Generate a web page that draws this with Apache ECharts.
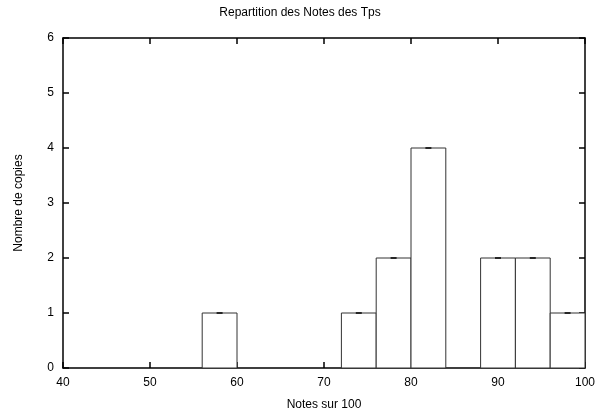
<!DOCTYPE html>
<html><head><meta charset="utf-8">
<script src="https://cdn.jsdelivr.net/npm/echarts@6/dist/echarts.min.js"></script>
<style>html,body{margin:0;padding:0;background:#fff}#c{width:600px;height:417px}</style>
</head><body><div id="c"></div>
<script>
var binCenters = [58, 74, 78, 82, 90, 94, 98];
var counts = [1, 1, 2, 4, 2, 2, 1];
var binWidth = 4;
var xTicks = [40, 50, 60, 70, 80, 90, 100];
var yTicks = [0, 1, 2, 3, 4, 5, 6];

var chart = echarts.init(document.getElementById('c'), null, {renderer: 'canvas'});
var font = 'Liberation Sans, Arial, sans-serif';
var data = binCenters.map(function (c, i) { return [c, counts[i]]; });
function axisBase(show) {
  return {
    axisLine: {show: true, onZero: false, lineStyle: {color: '#000', width: 1.5}},
    axisTick: {show: true, inside: true, length: 6, lineStyle: {color: '#000', width: 1.5}},
    axisLabel: {show: show, color: '#000', fontSize: 12, fontFamily: font, margin: 9},
    splitLine: {show: false}
  };
}
var xb = Object.assign({type: 'value', min: xTicks[0], max: xTicks[xTicks.length - 1], interval: 10, position: 'bottom',
  name: 'Notes sur 100', nameLocation: 'middle', nameGap: 31,
  nameTextStyle: {color: '#000', fontSize: 12, fontFamily: font}}, axisBase(true));
var xt = Object.assign({type: 'value', min: xTicks[0], max: xTicks[xTicks.length - 1], interval: 10, position: 'top'}, axisBase(false));
var yl = Object.assign({type: 'value', min: yTicks[0], max: yTicks[yTicks.length - 1], interval: 1, position: 'left',
  name: 'Nombre de copies', nameLocation: 'middle', nameGap: 38,
  nameTextStyle: {color: '#000', fontSize: 12, fontFamily: font}}, axisBase(true));
var yr = Object.assign({type: 'value', min: yTicks[0], max: yTicks[yTicks.length - 1], interval: 1, position: 'right'}, axisBase(false));

chart.setOption({
  animation: false,
  backgroundColor: '#fff',
  title: {text: 'Repartition des Notes des Tps', left: 'center', top: 2,
    textStyle: {color: '#000', fontSize: 12, fontWeight: 'normal', fontFamily: font}},
  grid: {left: 63, right: 15, top: 38, bottom: 49},
  xAxis: [xb, xt],
  yAxis: [yl, yr],
  series: [{
    type: 'custom',
    xAxisIndex: 0, yAxisIndex: 0,
    data: data,
    renderItem: function (params, api) {
      var c = api.value(0), v = api.value(1);
      var p0 = api.coord([c - binWidth / 2, v]);
      var p1 = api.coord([c + binWidth / 2, 0]);
      var pc = api.coord([c, v]);
      return {
        type: 'group',
        children: [
          {type: 'rect', shape: {x: p0[0], y: p0[1], width: p1[0] - p0[0], height: p1[1] - p0[1]},
            style: {fill: '#fff', stroke: '#333', lineWidth: 1}},
          {type: 'line', shape: {x1: pc[0] - 3, y1: pc[1], x2: pc[0] + 3, y2: pc[1]},
            style: {stroke: '#000', lineWidth: 1.5}}
        ]
      };
    }
  }]
});
</script></body></html>
